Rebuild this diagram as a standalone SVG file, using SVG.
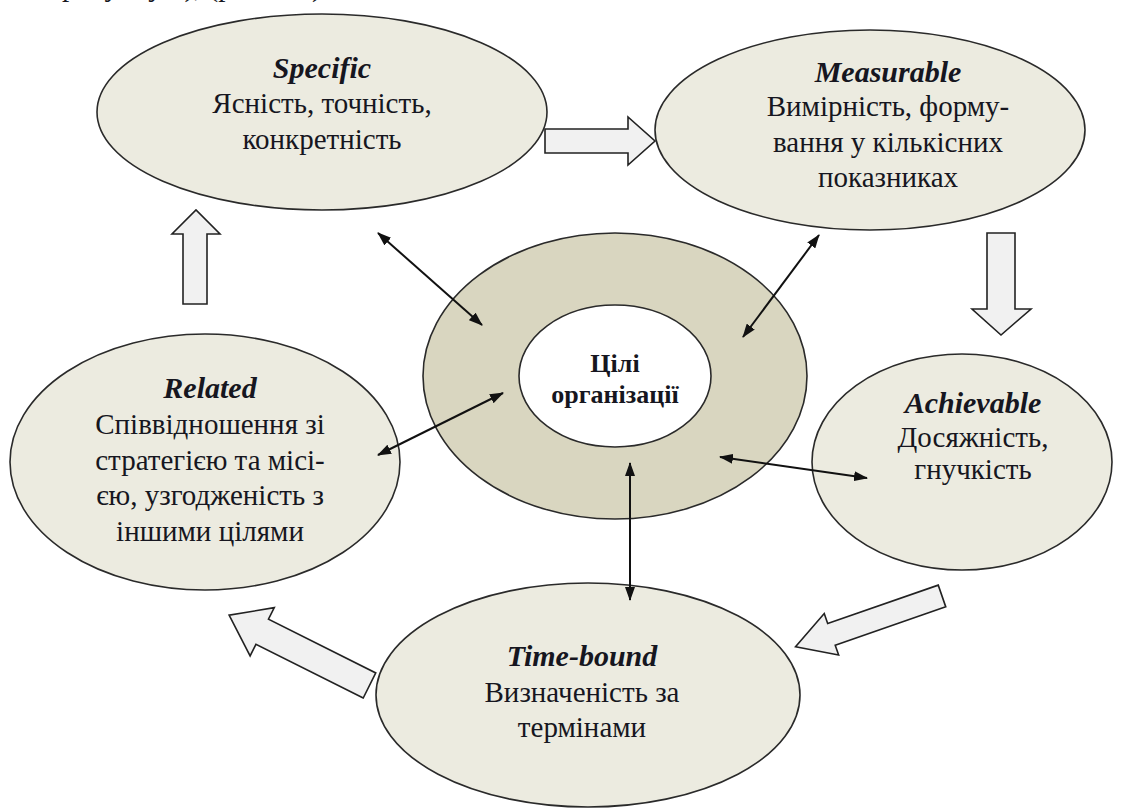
<svg xmlns="http://www.w3.org/2000/svg" width="1129" height="811" viewBox="0 0 1129 811">
<defs>
<style>
.node{fill:#ecebe0;stroke:#2a2a2a;stroke-width:1.6}
.ring{fill:#d9d6c0;stroke:#2a2a2a;stroke-width:1.6}
.core{fill:#ffffff;stroke:#2a2a2a;stroke-width:1.6}
.h{font-style:italic;font-weight:bold;font-size:30px}
.c{font-weight:bold;font-size:26px}
.blk{fill:#f1f1f1;stroke:#222;stroke-width:1.6;stroke-linejoin:miter}
.con{stroke:#111;stroke-width:2;fill:none;marker-start:url(#ah);marker-end:url(#ah)}
</style>
<marker id="ah" viewBox="0 0 14 10" refX="13" refY="5" markerWidth="14" markerHeight="10" markerUnits="userSpaceOnUse" orient="auto-start-reverse">
<path d="M0,0 L14,5 L0,10 Z" fill="#111"/>
</marker>
</defs>
<rect width="1129" height="811" fill="#ffffff"/>
<g font-family="Liberation Serif" font-size="29" fill="#161620" text-anchor="middle">
<text x="62" y="-4" text-anchor="start">рисунку 1), (рис. 1.1)</text>

<g id="specific">
<ellipse class="node" cx="322" cy="112" rx="225" ry="98"/>
<text class="h" x="322" y="78">Specific</text>
<text x="322" y="113">Ясність, точність,</text>
<text x="322" y="149">конкретність</text>
</g>

<g id="measurable">
<ellipse class="node" cx="870" cy="130" rx="215" ry="100"/>
<text class="h" x="888" y="82">Measurable</text>
<text x="888" y="116">Вимірність, форму-</text>
<text x="888" y="152">вання у кількісних</text>
<text x="888" y="187">показниках</text>
</g>

<g id="related">
<ellipse class="node" cx="205" cy="462" rx="195" ry="128"/>
<text class="h" x="210" y="398">Related</text>
<text x="210" y="434">Співвідношення зі</text>
<text x="210" y="470">стратегією та місі-</text>
<text x="210" y="505">єю, узгодженість з</text>
<text x="210" y="541">іншими цілями</text>
</g>

<g id="achievable">
<ellipse class="node" cx="962" cy="462" rx="150" ry="108"/>
<text class="h" x="973" y="413">Achievable</text>
<text x="973" y="447">Досяжність,</text>
<text x="973" y="479">гнучкість</text>
</g>

<g id="timebound">
<ellipse class="node" cx="588" cy="695" rx="212" ry="112"/>
<text class="h" x="582" y="666">Time-bound</text>
<text x="582" y="702">Визначеність за</text>
<text x="582" y="737">термінами</text>
</g>

<g id="goals">
<ellipse class="ring" cx="615" cy="376" rx="192" ry="143"/>
<ellipse class="core" cx="615" cy="376" rx="96" ry="71"/>
<text class="c" x="615" y="372">Цілі</text>
<text class="c" x="615" y="403">організації</text>
</g>
</g>

<g id="connectors">
<line class="con" x1="378" y1="233" x2="482" y2="325"/>
<line class="con" x1="819" y1="235" x2="743" y2="337"/>
<line class="con" x1="378" y1="455" x2="503" y2="393"/>
<line class="con" x1="720" y1="457" x2="867" y2="478"/>
<line class="con" x1="630" y1="463" x2="630" y2="600"/>
<polygon class="blk" points="545,129 628,129 628,117 655,141 628,165 628,153 545,153"/>
<polygon class="blk" points="183,304 183,234 172,234 196,210 220,234 207,234 207,304"/>
<polygon class="blk" points="987,233 1015,233 1015,309 1031,309 1001,335 972,309 987,309"/>
<g transform="translate(942,596) rotate(160.9)">
<polygon class="blk" points="0,-11.5 117,-11.5 117,-22 155,0 117,22 117,11.5 0,11.5"/>
</g>
<g transform="translate(369.5,685.5) rotate(206.6)">
<polygon class="blk" points="0,-14 120,-14 120,-27 157,0 120,27 120,14 0,14"/>
</g>
</g>
</svg>
